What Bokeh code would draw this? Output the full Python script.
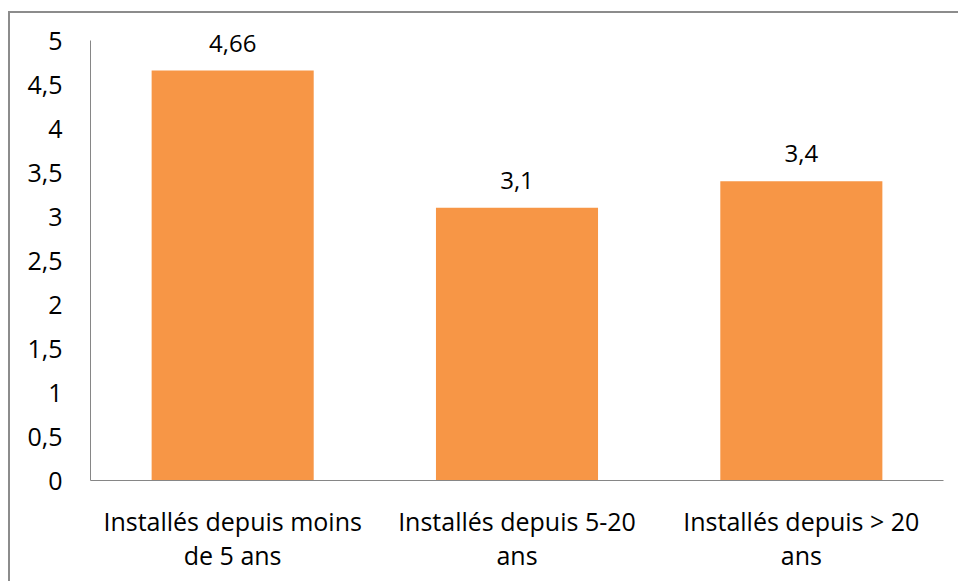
from bokeh.plotting import figure
from bokeh.models import ColumnDataSource, FixedTicker, LabelSet, Range1d
from bokeh.core.properties import value
from bokeh.embed import file_html
from bokeh.resources import INLINE

categories = ["Installés depuis moins\nde 5 ans", "Installés depuis 5-20\nans", "Installés depuis > 20\nans"]
values = [4.66, 3.1, 3.4]
value_labels = ["4,66", "3,1", "3,4"]
y_ticks = [0, 0.5, 1, 1.5, 2, 2.5, 3, 3.5, 4, 4.5, 5]
y_tick_labels = ["0", "0,5", "1", "1,5", "2", "2,5", "3", "3,5", "4", "4,5", "5"]

FONT = "Open Sans"
FS = "25px"

src = ColumnDataSource(dict(cat=categories, val=values, lab=value_labels))

# extra headroom above 5 so that the top value label is not clipped
p = figure(x_range=categories, y_range=Range1d(0, 5.2283), width=950, height=570,
           output_backend="svg", toolbar_location=None,
           min_border_left=80, min_border_right=17, min_border_top=7, min_border_bottom=103)
p.styles = {"border-left": "2px solid #8c8c8c", "border-top": "2px solid #8c8c8c",
            "margin-left": "8px", "margin-top": "11px", "box-sizing": "border-box"}
p.outline_line_color = None
p.background_fill_color = "white"
p.border_fill_color = "white"

p.vbar(x="cat", top="val", width=0.57, source=src, color="#F79646", line_color=None)

labels = LabelSet(x="cat", y="val", text="lab", source=src, text_align="center",
                  text_baseline="bottom", y_offset=19, text_font_size="24px",
                  text_font=value(FONT), text_color="#000000")
p.add_layout(labels)

p.xgrid.grid_line_color = None
p.ygrid.grid_line_color = None

p.yaxis.ticker = FixedTicker(ticks=y_ticks)
p.yaxis.bounds = (0, 5)
p.yaxis.major_label_overrides = {t: l for t, l in zip(y_ticks, y_tick_labels)}
p.yaxis.major_tick_line_color = None
p.yaxis.minor_tick_line_color = None
p.yaxis.axis_line_color = "#868686"
p.yaxis.major_label_standoff = 22
p.yaxis.major_label_text_font = FONT
p.yaxis.major_label_text_font_size = FS
p.yaxis.major_label_text_color = "#000000"

p.xaxis.major_tick_line_color = None
p.xaxis.minor_tick_line_color = None
p.xaxis.axis_line_color = "#868686"
p.xaxis.major_label_standoff = 17
p.xaxis.major_label_text_font = FONT
p.xaxis.major_label_text_font_size = FS
p.xaxis.major_label_text_color = "#000000"
p.xaxis.major_label_text_line_height = 1.0

open("out.html", "w").write(file_html(p, INLINE))
